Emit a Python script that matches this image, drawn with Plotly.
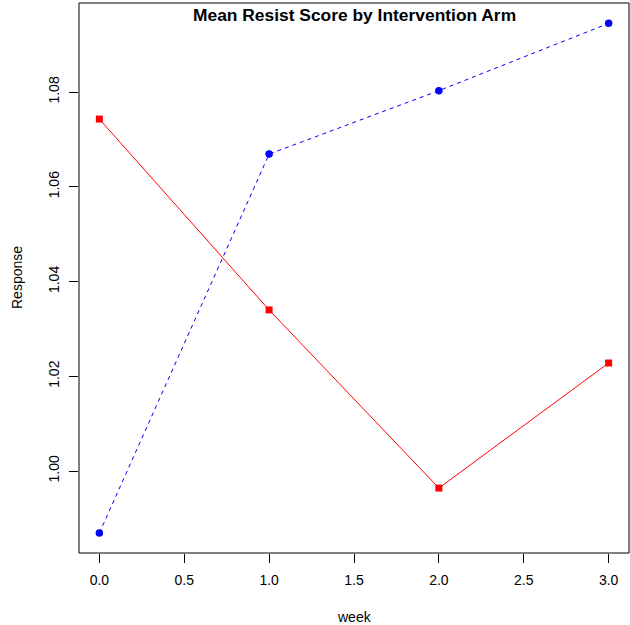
import plotly.graph_objects as go

weeks = [0, 1, 2, 3]
arm_blue = [0.9869, 1.0669, 1.0803, 1.0945]
arm_red = [1.0743, 1.0340, 0.9964, 1.0228]
x_ticks = [0, 0.5, 1, 1.5, 2, 2.5, 3]
x_tick_labels = ["0.0", "0.5", "1.0", "1.5", "2.0", "2.5", "3.0"]
y_ticks = [1.00, 1.02, 1.04, 1.06, 1.08]
y_tick_labels = ["1.00", "1.02", "1.04", "1.06", "1.08"]

FONT = "Liberation Sans, Arial, sans-serif"

fig = go.Figure()
fig.add_trace(go.Scatter(x=weeks, y=arm_red, mode="lines+markers",
                         line=dict(color="#ff0000", width=1),
                         marker=dict(symbol="square", size=7, color="#ff0000"),
                         showlegend=False))
fig.add_trace(go.Scatter(x=weeks, y=arm_blue, mode="lines+markers",
                         line=dict(color="#0000ff", width=1, dash="4px,4px"),
                         marker=dict(symbol="circle", size=7.5, color="#0000ff"),
                         showlegend=False))

fig.update_layout(
    width=630, height=625,
    margin=dict(l=79, r=1, t=3, b=72),
    plot_bgcolor="white", paper_bgcolor="white",
    font=dict(family=FONT, size=14, color="black"),
    xaxis=dict(range=[-0.12, 3.12], tickvals=x_ticks, ticktext=x_tick_labels,
               ticks="outside", ticklen=9, tickcolor="black", tickwidth=1,
               showgrid=False, zeroline=False, showline=False,
               ticklabelstandoff=5, tickfont=dict(size=14)),
    yaxis=dict(range=[0.98269, 1.0988], tickvals=y_ticks, ticktext=y_tick_labels,
               ticks="outside", ticklen=9, tickcolor="black", tickwidth=1,
               tickangle=-90, showgrid=False, zeroline=False, showline=False,
               ticklabelstandoff=4, tickfont=dict(size=14)),
    shapes=[dict(type="rect", xref="paper", yref="paper", x0=0, x1=1, y0=0, y1=1,
                 line=dict(color="black", width=1))],
    annotations=[
        dict(text="<b>Mean Resist Score by Intervention Arm</b>", xref="paper", yref="paper",
             x=0.5, y=1, yshift=-12, showarrow=False, font=dict(size=17.4),
             xanchor="center", yanchor="middle"),
        dict(text="week", xref="paper", yref="paper", x=0.5, y=0, yshift=-64,
             showarrow=False, font=dict(size=14), xanchor="center", yanchor="middle"),
        dict(text="Response", xref="paper", yref="paper", x=0, xshift=-62, y=0.5,
             showarrow=False, font=dict(size=14), textangle=-90,
             xanchor="center", yanchor="middle"),
    ],
)

fig.write_html("out.html")
